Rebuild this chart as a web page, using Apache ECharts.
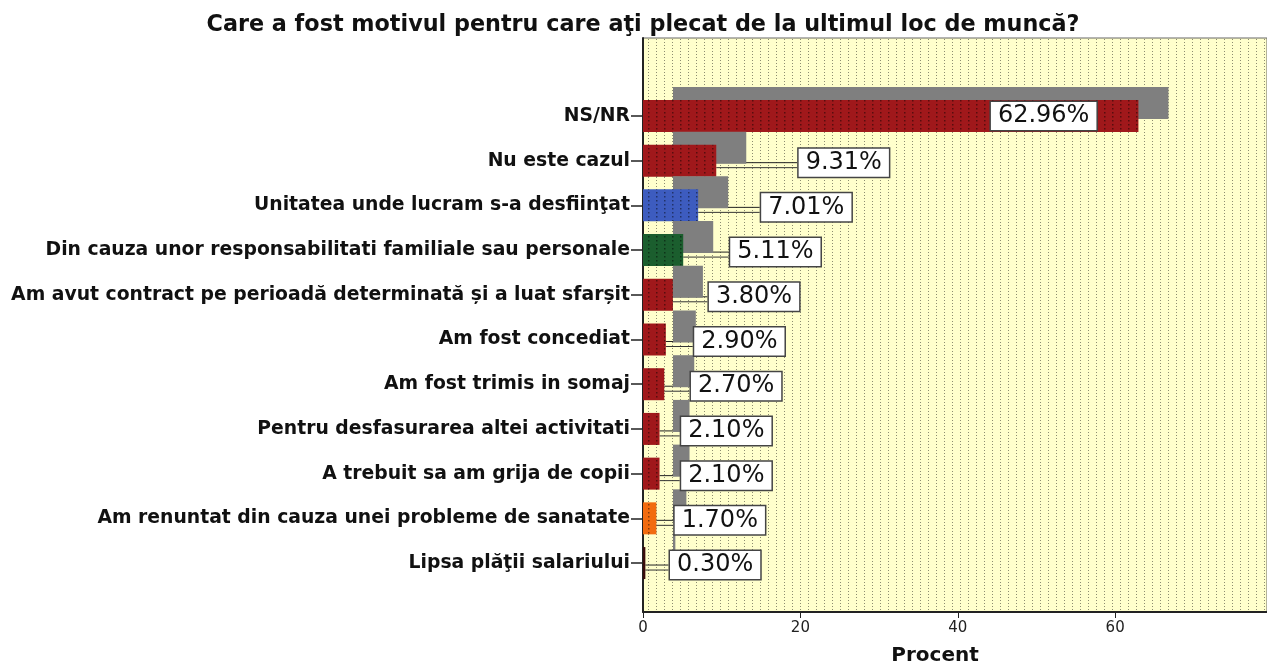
<!DOCTYPE html>
<html>
<head>
<meta charset="utf-8">
<script src="https://cdn.jsdelivr.net/npm/echarts@6/dist/echarts.min.js"></script>
<style>
  html, body { margin: 0; padding: 0; background: #fff; }
  #chart { width: 1267px; height: 664px; }
</style>
</head>
<body>
<div id="chart"></div>
<script>
// categorii (de sus in jos) si procente
var categories = [
  "NS/NR",
  "Nu este cazul",
  "Unitatea unde lucram s-a desfiinţat",
  "Din cauza unor responsabilitati familiale sau personale",
  "Am avut contract pe perioadă determinată și a luat sfarșit",
  "Am fost concediat",
  "Am fost trimis in somaj",
  "Pentru desfasurarea altei activitati",
  "A trebuit sa am grija de copii",
  "Am renuntat din cauza unei probleme de sanatate",
  "Lipsa plăţii salariului"
];
var percents = [62.96, 9.31, 7.01, 5.11, 3.80, 2.90, 2.70, 2.10, 2.10, 1.70, 0.30];
var barColors = ["#a0181b", "#a0181b", "#3d5cbf", "#1b5e2e", "#a0181b", "#a0181b",
  "#a0181b", "#a0181b", "#a0181b", "#f26b0f", "#3a0c0c"];
var xTicks = [0, 20, 40, 60];

// fundal cu puncte (pattern)
function dots(bg, dot, w, h, s) {
  var c = document.createElement("canvas");
  c.width = w;
  c.height = h;
  var g = c.getContext("2d");
  g.fillStyle = bg;
  g.fillRect(0, 0, w, h);
  g.fillStyle = dot;
  g.fillRect(0, 0, s, s);
  return { image: c, repeat: "repeat" };
}

var FONT = "DejaVu Sans";
var chart = echarts.init(document.getElementById("chart"));

var barData = percents.map(function (v, i) {
  var item = {
    value: v,
    itemStyle: { color: dots(barColors[i], "rgba(0,0,0,0.45)", 8, 4, 1.5) }
  };
  if (i === 0) item.labelLine = { show: false };
  return item;
});

var option = {
  animation: false,
  title: {
    text: "Care a fost motivul pentru care aţi plecat de la ultimul loc de muncă?",
    left: 638,
    top: 9,
    textAlign: "center",
    textStyle: { fontFamily: FONT, fontWeight: "bold", fontSize: 22.3, color: "#111" }
  },
  grid: [
    {
      left: 643, right: 0, top: 38, bottom: 52,
      outerBoundsMode: "none",
      show: true,
      backgroundColor: dots("#ffffcc", "#8c8c70", 8, 3, 1),
      borderColor: "#666",
      borderWidth: 1
    },
    { left: 643, right: 0, top: 93.6, bottom: 78.6, outerBoundsMode: "none" }
  ],
  xAxis: [
    {
      gridIndex: 0,
      type: "value",
      min: xTicks[0],
      max: 79.3,
      interval: xTicks[1] - xTicks[0],
      name: "Procent",
      nameLocation: "middle",
      nameGap: 34,
      nameTextStyle: { fontFamily: FONT, fontWeight: "bold", fontSize: 20, color: "#111", padding: [0, 40, 0, 0] },
      axisLine: { show: true, onZero: false, lineStyle: { color: "#222", width: 2 } },
      axisTick: { show: true, length: 6, lineStyle: { color: "#222" } },
      axisLabel: { fontFamily: FONT, fontSize: 15, color: "#222", margin: 9, showMaxLabel: false },
      splitLine: { show: false }
    },
    { gridIndex: 1, type: "value", min: 0, max: 79.3, show: false }
  ],
  yAxis: [
    {
      gridIndex: 0,
      type: "value",
      min: 0,
      max: 1,
      axisLine: { show: true, onZero: false, lineStyle: { color: "#222", width: 2 } },
      axisTick: { show: false },
      axisLabel: { show: false },
      splitLine: { show: false }
    },
    {
      gridIndex: 1,
      type: "category",
      inverse: true,
      data: categories,
      axisLine: { show: false },
      axisTick: { show: true, alignWithLabel: true, length: 12, lineStyle: { color: "#222", width: 1.5 } },
      axisLabel: { fontFamily: FONT, fontWeight: "bold", fontSize: 18.8, color: "#111", margin: 13 }
    }
  ],
  series: [
    {
      type: "bar",
      xAxisIndex: 1,
      yAxisIndex: 1,
      barWidth: 32,
      data: barData,
      itemStyle: {
        borderWidth: 0,
        shadowColor: "#7f7f7f",
        shadowBlur: 0,
        shadowOffsetX: 30,
        shadowOffsetY: -13
      },
      label: {
        show: true,
        formatter: function (p) { return p.value.toFixed(2) + "%"; },
        fontFamily: FONT,
        fontSize: 24,
        color: "#111",
        backgroundColor: "#fff",
        borderColor: "#444",
        borderWidth: 1.5,
        padding: [2, 7]
      },
      labelLine: {
        show: true,
        lineStyle: { color: "#222", width: 1, shadowColor: "#333", shadowOffsetY: 5, shadowBlur: 0 }
      },
      labelLayout: function (p) {
        var r = p.rect;
        if (r.width > 300) {
          return { x: r.x + r.width - 42, y: r.y + r.height / 2, align: "right", verticalAlign: "middle" };
        }
        return {
          x: Math.max(r.x + r.width * 2.07 + 4, r.x + 27),
          y: r.y + r.height / 2 + 2,
          align: "left",
          verticalAlign: "middle"
        };
      }
    }
  ]
};

chart.setOption(option);
</script>
</body>
</html>
